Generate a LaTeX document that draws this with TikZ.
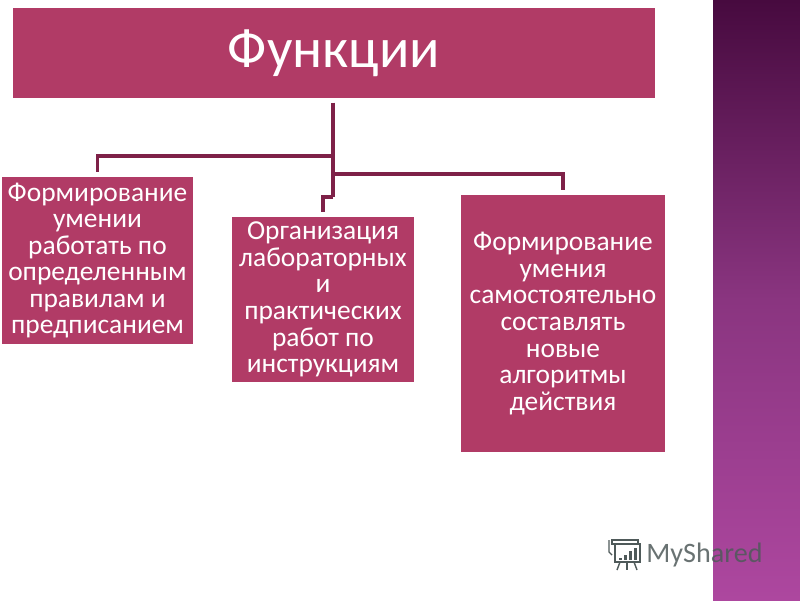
\documentclass[tikz,border=0pt]{standalone}
\usepackage{fontspec}
\setmainfont{Carlito}
\usetikzlibrary{positioning}
\definecolor{boxrose}{HTML}{B13B66}
\definecolor{linkrose}{HTML}{7E2148}
\definecolor{bandtop}{HTML}{470A3F}
\definecolor{bandmid}{HTML}{8A3580}
\definecolor{bandbot}{HTML}{AD479F}
\definecolor{markgray}{HTML}{4F5A5A}
\tikzset{
  funcbox/.style={fill=boxrose, text=white, align=center, inner sep=0pt,
    font=\fontsize{19.5}{18.9}\selectfont},
  branch/.style={linkrose, line width=2.4pt, line cap=butt, line join=miter},
}
\begin{document}
\begin{tikzpicture}[x=0.025cm,y=-0.025cm]
  \useasboundingbox (0,0) rectangle (800,600);
  \fill[white] (0,0) rectangle (800,600);
  % side band
  \shade[top color=bandtop, bottom color=bandmid] (713,0) rectangle (800,300);
  \shade[top color=bandmid, bottom color=bandbot] (713,300) rectangle (800,600);
  % boxes
  \node[funcbox, minimum width=16.05cm, minimum height=2.25cm,
    font=\fontsize{40}{42}\selectfont] (title) at (334,53) {Функции};
  \node[funcbox, minimum width=4.775cm, minimum height=4.175cm] (formA) at (97.5,260.5)
    {Формирование\\умении\\работать по\\определенным\\правилам и\\предписанием};
  \node[funcbox, minimum width=4.55cm, minimum height=4.125cm] (orgB) at (323,299.5)
    {Организация\\лабораторных\\и\\практических\\работ по\\инструкциям};
  \node[funcbox, minimum width=5.1cm, minimum height=6.425cm] (formC) at (563,323.5)
    {Формирование\\умения\\самостоятельно\\составлять\\новые\\алгоритмы\\действия};
  % connectors
  \coordinate (joinA) at (333,156);
  \coordinate (joinC) at (333,174);
  \coordinate (joinB) at (333,197);
  \draw[branch, shorten <=3pt] (title.south -| joinA) -- (joinB);
  \draw[branch, shorten >=3pt] (joinA) -| (formA);
  \draw[branch, shorten >=3pt] (joinB) -| (orgB);
  \draw[branch, shorten >=3pt] (joinC) -| (formC);
  % watermark
  \node[text=markgray, opacity=.85, inner sep=0pt, font=\fontsize{20}{21}\selectfont] (mark) at (704.5,555) {MyShared};
  \begin{scope}[markgray, line width=1pt]
    \draw (612,540) -- (638,540) -- (638,544) -- (612,544) -- cycle;
    \draw (609,540) -- (609,552) -- (612,555);
    \draw (615,544) rectangle (640,562);
    \foreach \x/\y in {619/558, 624/555, 629/551, 634/548}{
      \fill (\x,560) rectangle (\x+3,\y);
    }
    \draw (620,562) -- (617,570);
    \draw (627,562) -- (627,570);
    \draw (634,562) -- (637,570);
  \end{scope}
\end{tikzpicture}
\end{document}
